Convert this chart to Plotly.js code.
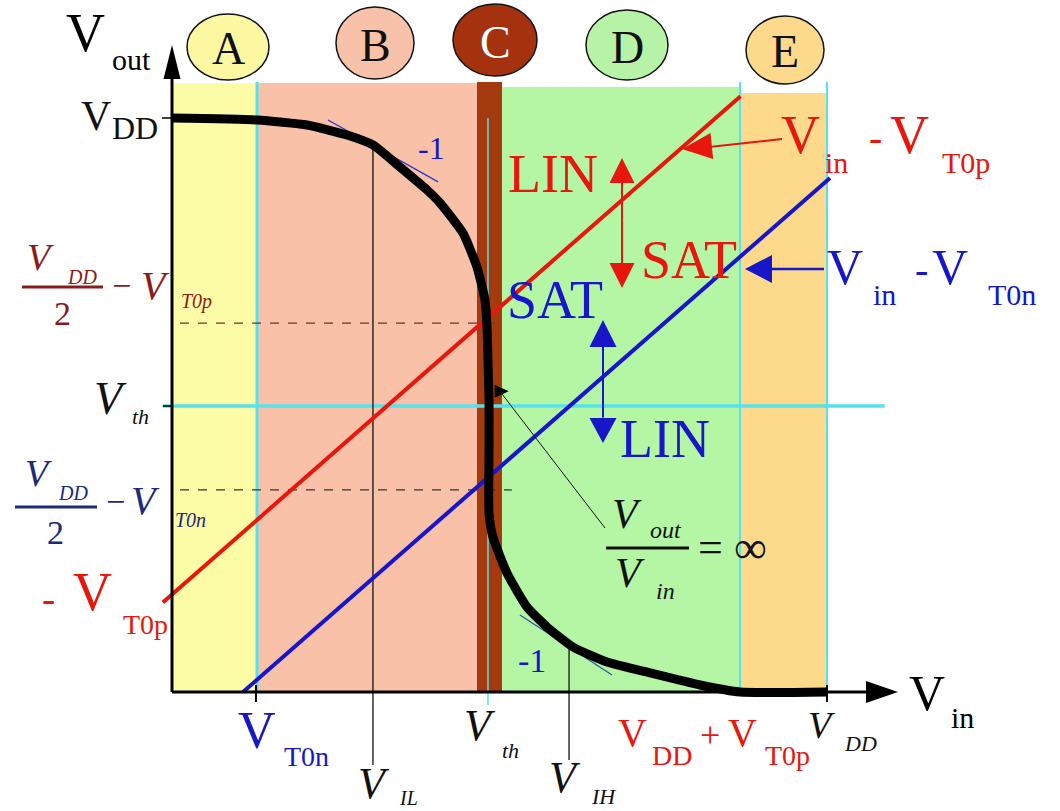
<!DOCTYPE html>
<html>
<head>
<meta charset="utf-8">
<script src="https://cdn.plot.ly/plotly-3.0.1.min.js"></script>
<style>
  html, body { margin: 0; padding: 0; background: #ffffff; }
  #chart { width: 1060px; height: 811px; }
</style>
</head>
<body>
<div id="chart"></div>
<script>
// CMOS inverter voltage transfer characteristic with its five operating regions.

// ---- data (volts, arbitrary scale with VDD = 5) ----
const VDD = 5.0;
const regionNames = ['A', 'B', 'C', 'D', 'E'];
const regionEdges = [0, 0.649, 2.328, 2.519, 4.336, 5.0];
const regionTops  = [5.305, 5.305, 5.314, 5.270, 5.218];

// transfer curve Vout(Vin)
const vtcVin  = [0, 0.649, 1.031, 1.336, 1.534, 1.740, 1.947, 2.046, 2.221, 2.328, 2.389, 2.405,
                 2.412, 2.420, 2.420, 2.420, 2.450, 2.557, 2.710, 2.863, 3.061, 3.321, 3.649, 4.031, 4.336, 5.0];
const vtcVout = [5.0, 4.983, 4.939, 4.852, 4.765, 4.573, 4.373, 4.260, 3.998, 3.702, 3.415, 3.179,
                 2.892, 2.544, 2.108, 1.559, 1.350, 1.037, 0.740, 0.566, 0.392, 0.261, 0.166, 0.061, 0, 0];

// saturation boundaries: Vout = Vin - VT0p (pMOS) and Vout = Vin - VT0n (nMOS)
const pBoundVin  = [-0.07, 4.34];
const pBoundVout = [0.78, 5.19];
const nBoundVin  = [0.542, 5.023];
const nBoundVout = [0, 4.477];

// characteristic points
const VT0n   = 0.641;
const Vth    = 2.412;   // switching input
const VthOut = 2.491;   // switching output level
const VIL    = 1.534;
const VIH    = 3.031;
const levelP = 3.214;   // VDD/2 - VT0p
const levelN = 1.760;   // VDD/2 - VT0n

// unity-gain tangents
const tanHighVin  = [1.191, 2.031];
const tanHighVout = [4.983, 4.443];
const tanLowVin   = [2.656, 3.359];
const tanLowVout  = [0.671, 0.148];

// ---- layout helpers ----
const W = 1060, H = 811;
const SX = 131, SY = 114.8;            // pixels per volt on each axis
const XR = [-172 / SX, -172 / SX + W / SX];
const YR = [-(H - 692) / SY, 692 / SY];
const SERIF = 'Liberation Serif, Times New Roman, DejaVu Serif, serif';

const PX = px => px / W;
const PY = py => 1 - py / H;

function txt(t, px, py, size, color, extra) {
  return Object.assign({
    text: t, xref: 'paper', yref: 'paper', x: PX(px), y: PY(py),
    xanchor: 'center', yanchor: 'middle', showarrow: false,
    font: { family: SERIF, size: size, color: color }
  }, extra || {});
}

function seg(x0, y0, x1, y1, color, width, dash, layer) {
  return { type: 'line', xref: 'x', yref: 'y', x0, y0, x1, y1,
           line: { color, width, dash: dash || 'solid' }, layer: layer || 'below' };
}

// filled triangular arrow head, tip at data (x, y), direction in screen degrees
function head(x, y, ang, len, wid, color) {
  const a = ang * Math.PI / 180, c = Math.cos(a), s = Math.sin(a);
  const bx = -len * c, by = -len * s;
  const p1x = bx - s * wid / 2, p1y = by + c * wid / 2;
  const p2x = bx + s * wid / 2, p2y = by - c * wid / 2;
  const tx = d => (x + d / SX).toFixed(4);
  const ty = d => (y - d / SY).toFixed(4);
  return { type: 'path', xref: 'x', yref: 'y', layer: 'above',
           path: `M${x},${y} L${tx(p1x)},${ty(p1y)} L${tx(p2x)},${ty(p2y)} Z`,
           fillcolor: color, line: { width: 0 } };
}

function ellipse(cx, cy, rx, ry, fill) {
  return { type: 'circle', xref: 'paper', yref: 'paper',
           x0: PX(cx - rx), x1: PX(cx + rx), y0: PY(cy + ry), y1: PY(cy - ry),
           fillcolor: fill, line: { color: '#111111', width: 1.5 }, layer: 'above' };
}

function fracBar(x0, x1, py, color) {
  return { type: 'line', xref: 'paper', yref: 'paper', x0: PX(x0), x1: PX(x1), y0: PY(py), y1: PY(py),
           line: { color, width: 3 }, layer: 'above' };
}

// ---- colours ----
const regionFill = ['#fdfca6', '#f9c1a8', '#a53a0e', '#b4f6a4', '#fdd98b'];
const badgeFill  = ['#fcf8a2', '#f8c2aa', '#a4320e', '#b6f3a6', '#fdd98b'];
const CYAN = '#55e2ee', RED = '#e8170d', BLUE = '#1717c9';
const DRED = '#8a1b1b', NAVY = '#1d2a7a';

// ---- shapes ----
const shapes = [];
regionNames.forEach((n, i) => {
  shapes.push({ type: 'rect', xref: 'x', yref: 'y', layer: 'below',
                x0: regionEdges[i], x1: regionEdges[i + 1], y0: 0, y1: regionTops[i],
                fillcolor: regionFill[i], line: { width: 0 } });
});
// region separators
shapes.push(seg(regionEdges[1], 0, regionEdges[1], 5.314, CYAN, 3));
shapes.push(seg(regionEdges[4], 0, regionEdges[4], 5.314, CYAN, 2));
shapes.push(seg(regionEdges[5], 0, regionEdges[5], 5.314, CYAN, 2));
// switching threshold guides
shapes.push(seg(-0.07, VthOut, 5.44, VthOut, CYAN, 3.5));
shapes.push(seg(Vth, 5.0, Vth, -0.113, CYAN, 1.5));
// dashed projection levels
shapes.push(seg(0.061, levelP, 2.48, levelP, '#6e3030', 1.2, 'dash'));
shapes.push(seg(0.061, levelN, 2.595, levelN, '#333333', 1.2, 'dash'));
// VIL / VIH drop lines
shapes.push(seg(VIL, 4.765, VIL, -0.636, '#111111', 1.3));
shapes.push(seg(VIH, 0.427, VIH, -0.592, '#111111', 1.3));
// axes
shapes.push(seg(0, 0, 5.36, 0, '#000000', 3, 'solid', 'above'));
shapes.push(seg(0, 0, 0, 5.40, '#000000', 3, 'solid', 'above'));
shapes.push(head(5.542, 0, 0, 32, 22, '#000000'));
shapes.push(head(0, 5.636, -90, 34, 17, '#000000'));
// axis ticks
shapes.push(seg(-0.076, VDD, 0, VDD, '#000000', 1.5, 'solid', 'above'));
shapes.push(seg(-0.07, VthOut, 0, VthOut, '#000000', 1.5, 'solid', 'above'));
shapes.push(seg(VT0n, 0.061, VT0n, -0.087, '#000000', 2, 'solid', 'above'));
shapes.push(seg(VDD, 0.061, VDD, -0.087, '#000000', 2, 'solid', 'above'));
// region badges
const badgePos = [[228, 47, 41, 33], [375, 43, 39, 36], [495, 40, 42, 36], [627, 45, 41, 35], [785, 50, 39, 34]];
badgePos.forEach((b, i) => shapes.push(ellipse(b[0], b[1], b[2], b[3], badgeFill[i])));
// LIN/SAT double arrows
shapes.push(seg(3.435, 4.45, 3.435, 3.72, RED, 2, 'solid', 'above'));
shapes.push(head(3.435, 4.652, -90, 25, 25, RED));
shapes.push(head(3.435, 3.519, 90, 25, 25, RED));
shapes.push(seg(3.290, 3.03, 3.290, 2.39, BLUE, 2, 'solid', 'above'));
shapes.push(head(3.290, 3.240, -90, 27, 27, BLUE));
shapes.push(head(3.290, 2.169, 90, 25, 27, BLUE));
// pointers to the boundary lines
shapes.push(seg(4.656, 4.817, 4.10, 4.748, RED, 2, 'solid', 'above'));
shapes.push(head(3.893, 4.730, 174.3, 30, 26, RED));
shapes.push(seg(4.977, 3.685, 4.55, 3.685, BLUE, 2.5, 'solid', 'above'));
shapes.push(head(4.374, 3.685, 180, 27, 28, BLUE));
// infinite-gain pointer
shapes.push(seg(3.305, 1.429, 2.519, 2.596, '#111111', 1, 'solid', 'above'));
shapes.push(head(2.57, 2.62, 0, 14, 13, '#000000'));
// fraction bars
shapes.push(fracBar(22, 103, 287, DRED));
shapes.push(fracBar(15, 97, 507, NAVY));
shapes.push(fracBar(606, 689, 548, '#111111'));

// ---- traces ----
const traces = [
  { x: pBoundVin, y: pBoundVout, mode: 'lines', line: { color: RED, width: 4 }, hoverinfo: 'skip' },
  { x: nBoundVin, y: nBoundVout, mode: 'lines', line: { color: BLUE, width: 4 }, hoverinfo: 'skip' },
  { x: tanHighVin, y: tanHighVout, mode: 'lines', line: { color: '#3434c8', width: 1.3 }, hoverinfo: 'skip' },
  { x: tanLowVin, y: tanLowVout, mode: 'lines', line: { color: '#2e5a9a', width: 1.3 }, hoverinfo: 'skip' },
  { x: vtcVin, y: vtcVout, mode: 'lines', line: { color: '#000000', width: 9, shape: 'spline', smoothing: 0.5 }, hoverinfo: 'skip' }
];

// ---- text ----
const ann = [];
// axis names
ann.push(txt('V', 85, 33, 54, '#000'));
ann.push(txt('out', 131, 60, 30, '#000'));
ann.push(txt('V', 927, 693, 50, '#000'));
ann.push(txt('in', 962, 717, 30, '#000'));
// region letters
badgePos.forEach((b, i) => ann.push(txt(regionNames[i], b[0], b[1] + 2, 46, i === 2 ? '#ffffff' : '#111111')));
// Vout levels
ann.push(txt('V', 96, 116, 42, '#111'));
ann.push(txt('DD', 135, 128, 32, '#111'));
ann.push(txt('<i>V</i>', 40, 257, 38, DRED));
ann.push(txt('<i>DD</i>', 82, 277, 20, DRED));
ann.push(txt('2', 62, 313, 34, DRED));
ann.push(txt('\u2212', 121, 285, 34, DRED));
ann.push(txt('<i>V</i>', 155, 286, 40, DRED));
ann.push(txt('<i>T0p</i>', 196, 301, 20, DRED));
ann.push(txt('<i>V</i>', 110, 398, 46, '#111'));
ann.push(txt('<i>th</i>', 140, 416, 22, '#111'));
ann.push(txt('<i>V</i>', 38, 473, 38, NAVY));
ann.push(txt('<i>DD</i>', 73, 493, 20, NAVY));
ann.push(txt('2', 55, 532, 34, NAVY));
ann.push(txt('\u2212', 115, 502, 34, NAVY));
ann.push(txt('<i>V</i>', 145, 500, 40, NAVY));
ann.push(txt('<i>T0n</i>', 190, 520, 20, NAVY));
ann.push(txt('-', 48, 598, 40, RED));
ann.push(txt('V', 92, 592, 54, RED));
ann.push(txt('T0p', 145, 624, 28, RED));
// Vin marks
ann.push(txt('V', 257, 730, 52, BLUE));
ann.push(txt('T0n', 306, 756, 28, BLUE));
ann.push(txt('<i>V</i>', 480, 725, 44, '#111'));
ann.push(txt('<i>th</i>', 510, 750, 22, '#111'));
ann.push(txt('<i>V</i>', 374, 783, 44, '#111'));
ann.push(txt('<i>IL</i>', 408, 798, 20, '#111'));
ann.push(txt('<i>V</i>', 565, 777, 44, '#111'));
ann.push(txt('<i>IH</i>', 603, 796, 22, '#111'));
ann.push(txt('V', 632, 732, 40, RED));
ann.push(txt('DD', 672, 755, 28, RED));
ann.push(txt('+', 710, 735, 36, RED));
ann.push(txt('V', 742, 732, 40, RED));
ann.push(txt('T0p', 788, 755, 28, RED));
ann.push(txt('<i>V</i>', 821, 725, 38, '#111'));
ann.push(txt('<i>DD</i>', 860, 743, 22, '#111'));
// operating modes
ann.push(txt('LIN', 553, 174, 54, RED));
ann.push(txt('SAT', 689, 260, 54, RED));
ann.push(txt('SAT', 555, 300, 54, BLUE));
ann.push(txt('LIN', 665, 439, 54, BLUE));
// unity-gain slopes
ann.push(txt('-1', 431, 148, 32, BLUE));
ann.push(txt('-1', 532, 660, 34, BLUE));
// boundary line names
ann.push(txt('V', 800, 135, 54, RED));
ann.push(txt('in', 836, 163, 30, RED));
ann.push(txt('-', 875, 138, 40, RED));
ann.push(txt('V', 909, 135, 54, RED));
ann.push(txt('T0p', 966, 163, 30, RED));
ann.push(txt('V', 845, 267, 50, BLUE));
ann.push(txt('in', 884, 294, 30, BLUE));
ann.push(txt('-', 921, 269, 40, BLUE));
ann.push(txt('V', 950, 267, 50, BLUE));
ann.push(txt('T0n', 1012, 294, 30, BLUE));
// infinite gain
ann.push(txt('<i>V</i>', 627, 514, 42, '#111'));
ann.push(txt('<i>out</i>', 666, 530, 24, '#111'));
ann.push(txt('<i>V</i>', 630, 573, 42, '#111'));
ann.push(txt('<i>in</i>', 665, 591, 24, '#111'));
ann.push(txt('=', 710, 547, 44, '#111'));
ann.push(txt('\u221e', 750, 547, 46, '#111'));

const layout = {
  width: W, height: H,
  margin: { l: 0, r: 0, t: 0, b: 0, pad: 0 },
  paper_bgcolor: '#ffffff', plot_bgcolor: '#ffffff',
  showlegend: false,
  xaxis: { range: XR, visible: false, fixedrange: true },
  yaxis: { range: YR, visible: false, fixedrange: true },
  shapes: shapes,
  annotations: ann
};

Plotly.newPlot('chart', traces, layout, { displayModeBar: false, staticPlot: true });
</script>
</body>
</html>
